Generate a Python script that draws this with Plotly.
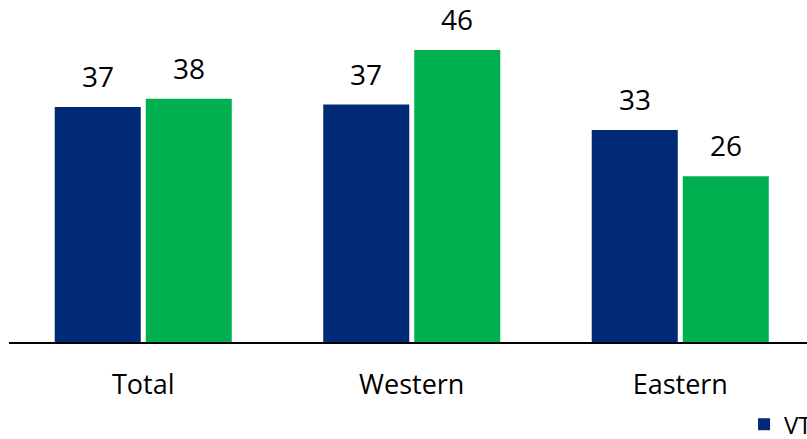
import plotly.graph_objects as go

categories = ["Total", "Western", "Eastern"]
series_names = ["VT 2020", "VT 2021"]
blue_values = [37.0, 37.4, 33.4]
green_values = [38.3, 46.0, 26.1]
colors = ["#002A75", "#00B050"]

FONT = "Open Sans"

fig = go.Figure()
for name, vals, col in zip(series_names, [blue_values, green_values], colors):
    fig.add_trace(go.Bar(
        x=categories, y=vals, name=name,
        marker=dict(color=col, line=dict(width=0)),
    ))

# value labels via annotations anchored to data coordinates
slot_px = 91
for i, vals in enumerate([blue_values, green_values]):
    for c, v in zip(categories, vals):
        fig.add_annotation(
            x=c, y=v, xref="x", yref="y",
            text=f"{v:.0f}", showarrow=False,
            xshift=(i - 0.5) * slot_px, yshift=31,
            yanchor="middle", xanchor="center",
            font=dict(family=FONT, size=28, color="black"),
        )

fig.update_layout(
    width=807, height=439,
    margin=dict(l=9, r=0, t=0, b=97, autoexpand=False),
    paper_bgcolor="white", plot_bgcolor="white",
    barmode="group", bargap=0.322, bargroupgap=0.055,
    font=dict(family=FONT, color="black"),
    showlegend=True,
    legend=dict(
        orientation="h", xref="container", yref="container",
        x=0.922, y=0.084, xanchor="left", yanchor="top",
        font=dict(family=FONT, size=24, color="black"),
        bgcolor="rgba(0,0,0,0)",
    ),
)
fig.update_xaxes(
    range=[-0.5, 2.472], showline=True, linecolor="black", linewidth=2,
    showgrid=False, zeroline=False, ticks="", ticklabelstandoff=18,
    tickfont=dict(family=FONT, size=27, color="black"),
)
fig.update_yaxes(range=[0, 53.86], visible=False, showgrid=False, zeroline=False)

fig.write_html(
    "out.html",
    config={"displayModeBar": False},
    post_script="document.body.style.margin='0';document.body.style.overflow='hidden';",
)
